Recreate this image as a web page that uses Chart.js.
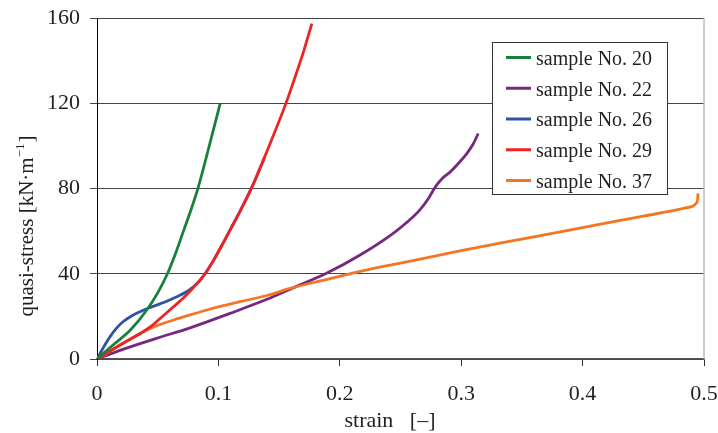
<!DOCTYPE html>
<html><head><meta charset="utf-8">
<script src="https://cdn.jsdelivr.net/npm/chart.js@4"></script>
<style>html,body{margin:0;padding:0;background:#fff}#wrap{width:718px;height:433px;position:relative}</style>
</head><body><div id="wrap"><canvas id="c" width="718" height="433"></canvas></div>
<script>
// ---- data ----
const seriesLabels = ['sample No. 20','sample No. 22','sample No. 26','sample No. 29','sample No. 37'];
const seriesColors = ['#1a7f3c','#76287f','#2e53a3','#ee2424','#f47524'];

const strain20 = [0, .0137, .0275, .041, .05, .058, .065, .0712, .077, .0835, .0926, .1014];
const stress20 = [0, 6.8, 13.6, 23, 31, 40, 50, 60, 69.3, 80.8, 100.3, 119.8];

const strain22 = [0, .0217, .049, .0767, .1096, .14, .162, .189, .2167, .244, .257, .266, .273, .279, .285, .291, .2975, .3046, .31, .314];
const stress22 = [0, 4.6, 9.7, 14.6, 21.4, 28, 33.5, 40.2, 48.8, 59, 65, 70, 75.3, 81, 85, 87.8, 91.7, 96.4, 101, 105.8];

const strain26 = [0, .0054, .0108, .0163, .0217, .0285, .0355, .042, .049, .057, .0657, .073, .0794, .0845, .089, .0955, .104, .1096, .118, .1275, .134, .138];
const stress26 = [0, 5.5, 10.5, 14.6, 17.6, 20.2, 22.2, 23.8, 25.3, 27, 29.2, 31.3, 33.9, 36.6, 40, 45.8, 54.5, 60.5, 69.5, 80.5, 89, 94.5];

const strain29 = [0, .02, .038, .045, .052, .063, .07, .077, .083, .089, .0955, .104, .1096, .118, .1275, .14, .155, .1618, .17, .177];
const stress29 = [0, 6.9, 12.8, 15.5, 19, 24.5, 28, 32, 35.8, 40, 45.8, 54.5, 60.5, 69.5, 80.5, 97.5, 119, 130, 144, 157.4];

const strain37 = [0, .0217, .038, .05, .063, .0767, .0905, .104, .118, .14, .159, .185, .2151, .25, .3, .35, .4, .45, .485, .491, .4935, .4948, .495];
const stress37 = [0, 7.4, 12.8, 15.8, 18.3, 20.7, 23, 25, 26.9, 29.8, 33.1, 36.8, 40.9, 45, 50.8, 56.3, 61.7, 67, 70.9, 71.8, 73, 75, 77.7];

const xTicks = [0, 0.1, 0.2, 0.3, 0.4, 0.5];
const yTicks = [0, 40, 80, 120, 160];
const xTitle = 'strain   [\u2013]';
const yTitleMain = 'quasi-stress [kN\u00B7m';
const yTitleSup = '\u22121';
const yTitleEnd = ']';

const xs = [strain20, strain22, strain26, strain29, strain37];
const ys = [stress20, stress22, stress26, stress29, stress37];
const drawOrder = [0, 4, 2, 1, 3]; // lower = on top

const FONT = '"Liberation Serif","Times New Roman",serif';

const datasets = seriesLabels.map((lab, i) => ({
  label: lab,
  data: xs[i].map((x, j) => ({x: x, y: ys[i][j]})),
  borderColor: seriesColors[i],
  backgroundColor: seriesColors[i],
  borderWidth: 2.8,
  pointRadius: 0,
  showLine: true,
  fill: false,
  cubicInterpolationMode: 'monotone',
  order: drawOrder[i]
}));

const decor = {
  id: 'decor',
  beforeDatasetsDraw(chart) {
    const {ctx, chartArea: a} = chart;
    ctx.save();
    ctx.strokeStyle = '#bdbdbd';
    ctx.lineWidth = 1.5;
    ctx.beginPath();
    ctx.moveTo(a.right, a.top);
    ctx.lineTo(a.right, a.bottom);
    ctx.stroke();
    ctx.restore();
  },
  afterDraw(chart) {
    const {ctx} = chart;
    ctx.save();
    // legend
    const bx = 492.5, by = 42.5, bw = 175, bh = 152;
    ctx.fillStyle = '#fff';
    ctx.fillRect(bx, by, bw, bh);
    ctx.strokeStyle = '#333';
    ctx.lineWidth = 1;
    ctx.strokeRect(bx, by, bw, bh);
    ctx.font = '20px ' + FONT;
    ctx.textBaseline = 'middle';
    ctx.textAlign = 'left';
    seriesLabels.forEach((lab, i) => {
      const yy = 57.5 + i * 30.75;
      ctx.strokeStyle = seriesColors[i];
      ctx.lineWidth = 3;
      ctx.beginPath();
      ctx.moveTo(506, yy);
      ctx.lineTo(531, yy);
      ctx.stroke();
      ctx.fillStyle = '#231f20';
      ctx.fillText(lab, 536, yy + 2);
    });
    // x title
    ctx.font = '22px ' + FONT;
    ctx.textAlign = 'center';
    ctx.textBaseline = 'alphabetic';
    ctx.fillStyle = '#231f20';
    ctx.fillText(xTitle, 390, 427);
    // y title (rotated)
    ctx.translate(33, 226);
    ctx.rotate(-Math.PI / 2);
    ctx.font = '21px ' + FONT;
    const w1 = ctx.measureText(yTitleMain).width;
    ctx.font = '13px ' + FONT;
    const w2 = ctx.measureText(yTitleSup).width;
    ctx.font = '21px ' + FONT;
    const w3 = ctx.measureText(yTitleEnd).width;
    const total = w1 + w2 + w3 + 1;
    let sx = -total / 2;
    ctx.textAlign = 'left';
    ctx.fillText(yTitleMain, sx, 0);
    sx += w1;
    ctx.font = '13px ' + FONT;
    ctx.fillText(yTitleSup, sx, -9);
    sx += w2 + 1;
    ctx.font = '21px ' + FONT;
    ctx.fillText(yTitleEnd, sx, 0);
    ctx.restore();
  }
};

new Chart(document.getElementById('c'), {
  type: 'scatter',
  data: {datasets},
  options: {
    responsive: false,
    animation: false,
    devicePixelRatio: 1,
    layout: {padding: {top: 18, right: 14, left: 0, bottom: 0}},
    plugins: {legend: {display: false}, tooltip: {enabled: false}},
    scales: {
      x: {
        type: 'linear', min: 0, max: 0.5,
        afterBuildTicks: s => { s.ticks = xTicks.map(v => ({value: v})); },
        afterFit: s => { s.height = 74; s.paddingLeft = 0; s.paddingRight = 0; s.paddingTop = 0; s.paddingBottom = 0; },
        ticks: {
          callback: v => String(Number(v.toFixed(1))),
          font: {family: FONT, size: 22}, color: '#231f20', padding: 15, maxRotation: 0
        },
        grid: {drawOnChartArea: false, drawTicks: true, tickLength: 7, color: '#333', lineWidth: 1},
        border: {display: true, color: '#555', width: 1.5}
      },
      y: {
        type: 'linear', min: 0, max: 160,
        afterBuildTicks: s => { s.ticks = yTicks.map(v => ({value: v})); },
        afterFit: s => { s.width = 97; s.paddingLeft = 0; s.paddingRight = 0; s.paddingTop = 0; s.paddingBottom = 0; },
        ticks: {font: {family: FONT, size: 22}, color: '#231f20', padding: 10},
        grid: {drawOnChartArea: true, drawTicks: true, tickLength: 7, color: '#444', lineWidth: 1},
        border: {display: true, color: '#000', width: 1}
      }
    }
  },
  plugins: [decor]
});
</script>
</body></html>
